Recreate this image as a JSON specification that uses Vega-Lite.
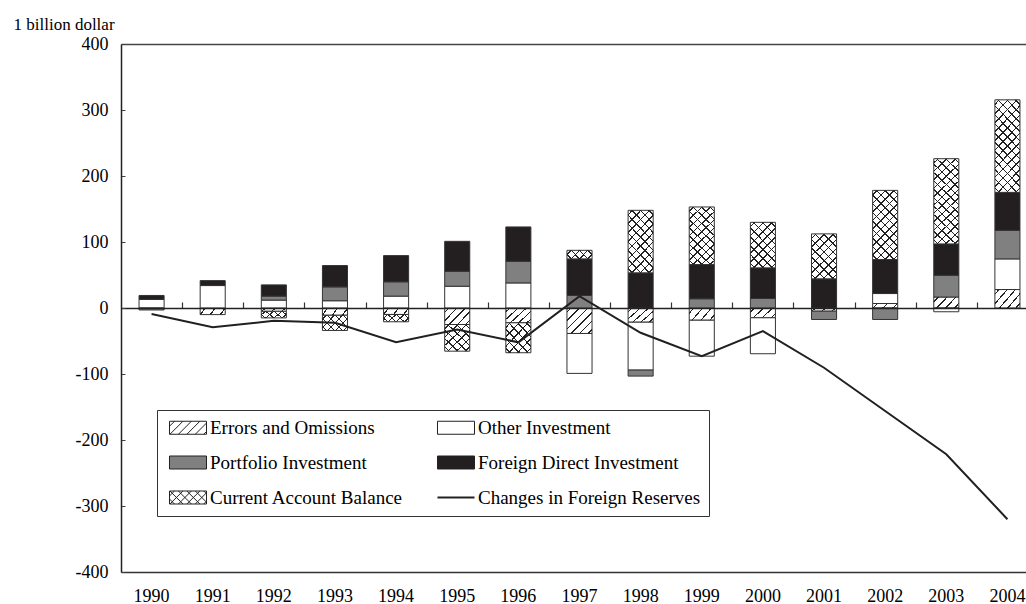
{
  "$schema": "https://vega.github.io/schema/vega-lite/v6.json",
  "usermeta": {"embedOptions": {"actions": false}},
  "width": 905,
  "height": 528,
  "autosize": {"type": "none"},
  "padding": {"left": 121, "top": 44, "right": 0, "bottom": 32},
  "background": "white",
  "config": {"view": {"stroke": null}, "font": "Liberation Serif"},
  "datasets": {
    "flows": [
      {"year": 1990, "series": "Other Investment", "value": 13, "order": 2},
      {"year": 1990, "series": "Portfolio Investment", "value": -3, "order": 3},
      {"year": 1990, "series": "Foreign Direct Investment", "value": 6, "order": 4},
      {"year": 1991, "series": "Errors and Omissions", "value": -10, "order": 1},
      {"year": 1991, "series": "Other Investment", "value": 34, "order": 2},
      {"year": 1991, "series": "Foreign Direct Investment", "value": 7.5, "order": 4},
      {"year": 1992, "series": "Errors and Omissions", "value": -5, "order": 1},
      {"year": 1992, "series": "Other Investment", "value": 12, "order": 2},
      {"year": 1992, "series": "Portfolio Investment", "value": 6, "order": 3},
      {"year": 1992, "series": "Foreign Direct Investment", "value": 17, "order": 4},
      {"year": 1992, "series": "Current Account Balance", "value": -10, "order": 5},
      {"year": 1993, "series": "Errors and Omissions", "value": -11, "order": 1},
      {"year": 1993, "series": "Other Investment", "value": 11, "order": 2},
      {"year": 1993, "series": "Portfolio Investment", "value": 21, "order": 3},
      {"year": 1993, "series": "Foreign Direct Investment", "value": 32.3, "order": 4},
      {"year": 1993, "series": "Current Account Balance", "value": -23, "order": 5},
      {"year": 1994, "series": "Errors and Omissions", "value": -9.8, "order": 1},
      {"year": 1994, "series": "Other Investment", "value": 18, "order": 2},
      {"year": 1994, "series": "Portfolio Investment", "value": 21.7, "order": 3},
      {"year": 1994, "series": "Foreign Direct Investment", "value": 39.7, "order": 4},
      {"year": 1994, "series": "Current Account Balance", "value": -11.1, "order": 5},
      {"year": 1995, "series": "Errors and Omissions", "value": -25, "order": 1},
      {"year": 1995, "series": "Other Investment", "value": 33, "order": 2},
      {"year": 1995, "series": "Portfolio Investment", "value": 22.7, "order": 3},
      {"year": 1995, "series": "Foreign Direct Investment", "value": 45.3, "order": 4},
      {"year": 1995, "series": "Current Account Balance", "value": -40.4, "order": 5},
      {"year": 1996, "series": "Errors and Omissions", "value": -22.4, "order": 1},
      {"year": 1996, "series": "Other Investment", "value": 38, "order": 2},
      {"year": 1996, "series": "Portfolio Investment", "value": 32.8, "order": 3},
      {"year": 1996, "series": "Foreign Direct Investment", "value": 52, "order": 4},
      {"year": 1996, "series": "Current Account Balance", "value": -45.4, "order": 5},
      {"year": 1997, "series": "Errors and Omissions", "value": -38.6, "order": 1},
      {"year": 1997, "series": "Other Investment", "value": -60.5, "order": 2},
      {"year": 1997, "series": "Portfolio Investment", "value": 19, "order": 3},
      {"year": 1997, "series": "Foreign Direct Investment", "value": 55.4, "order": 4},
      {"year": 1997, "series": "Current Account Balance", "value": 13, "order": 5},
      {"year": 1998, "series": "Errors and Omissions", "value": -21.5, "order": 1},
      {"year": 1998, "series": "Other Investment", "value": -72.6, "order": 2},
      {"year": 1998, "series": "Portfolio Investment", "value": -9.1, "order": 3},
      {"year": 1998, "series": "Foreign Direct Investment", "value": 53.3, "order": 4},
      {"year": 1998, "series": "Current Account Balance", "value": 94.7, "order": 5},
      {"year": 1999, "series": "Errors and Omissions", "value": -18.5, "order": 1},
      {"year": 1999, "series": "Other Investment", "value": -54.5, "order": 2},
      {"year": 1999, "series": "Portfolio Investment", "value": 14, "order": 3},
      {"year": 1999, "series": "Foreign Direct Investment", "value": 51.8, "order": 4},
      {"year": 1999, "series": "Current Account Balance", "value": 87.3, "order": 5},
      {"year": 2000, "series": "Errors and Omissions", "value": -14.8, "order": 1},
      {"year": 2000, "series": "Other Investment", "value": -54.5, "order": 2},
      {"year": 2000, "series": "Portfolio Investment", "value": 14.4, "order": 3},
      {"year": 2000, "series": "Foreign Direct Investment", "value": 46.4, "order": 4},
      {"year": 2000, "series": "Current Account Balance", "value": 69, "order": 5},
      {"year": 2001, "series": "Errors and Omissions", "value": -4.8, "order": 1},
      {"year": 2001, "series": "Portfolio Investment", "value": -12.6, "order": 3},
      {"year": 2001, "series": "Foreign Direct Investment", "value": 44.2, "order": 4},
      {"year": 2001, "series": "Current Account Balance", "value": 68.1, "order": 5},
      {"year": 2002, "series": "Errors and Omissions", "value": 6.8, "order": 1},
      {"year": 2002, "series": "Other Investment", "value": 15.1, "order": 2},
      {"year": 2002, "series": "Portfolio Investment", "value": -17.4, "order": 3},
      {"year": 2002, "series": "Foreign Direct Investment", "value": 51.5, "order": 4},
      {"year": 2002, "series": "Current Account Balance", "value": 104.8, "order": 5},
      {"year": 2003, "series": "Errors and Omissions", "value": 16.6, "order": 1},
      {"year": 2003, "series": "Other Investment", "value": -5.7, "order": 2},
      {"year": 2003, "series": "Portfolio Investment", "value": 33, "order": 3},
      {"year": 2003, "series": "Foreign Direct Investment", "value": 47.5, "order": 4},
      {"year": 2003, "series": "Current Account Balance", "value": 129.1, "order": 5},
      {"year": 2004, "series": "Errors and Omissions", "value": 28, "order": 1},
      {"year": 2004, "series": "Other Investment", "value": 46.4, "order": 2},
      {"year": 2004, "series": "Portfolio Investment", "value": 43.3, "order": 3},
      {"year": 2004, "series": "Foreign Direct Investment", "value": 57.5, "order": 4},
      {"year": 2004, "series": "Current Account Balance", "value": 140.2, "order": 5}
    ],
    "reserves": [
      {"year": 1990, "value": -9},
      {"year": 1991, "value": -29},
      {"year": 1992, "value": -19.5},
      {"year": 1993, "value": -22.5},
      {"year": 1994, "value": -52},
      {"year": 1995, "value": -32.5},
      {"year": 1996, "value": -52},
      {"year": 1997, "value": 18},
      {"year": 1998, "value": -37.5},
      {"year": 1999, "value": -73},
      {"year": 2000, "value": -35},
      {"year": 2001, "value": -90.5},
      {"year": 2002, "value": -156},
      {"year": 2003, "value": -221.5},
      {"year": 2004, "value": -320}
    ]
  },
  "resolve": {"axis": {"x": "independent", "y": "independent"}},
  "layer": [
    {
      "data": {"name": "flows"},
      "transform": [{"stack": "value", "groupby": ["year"], "sort": [{"field": "order"}], "as": ["v0", "v1"]}],
      "mark": {"type": "bar", "stroke": "#333333", "strokeWidth": 1},
      "encoding": {
        "x": {"field": "year", "type": "ordinal",
          "scale": {"type": "band", "range": [0, 917], "paddingInner": 0.59, "paddingOuter": 0.295},
          "axis": {"orient": "bottom", "title": null, "labelFont": "Liberation Serif", "labelFontSize": 18, "labelColor": "#000000", "labelAngle": 0, "ticks": false, "labelPadding": 15, "domainColor": "#333333", "domainWidth": 1.5, "grid": false}},
        "y": {"field": "v1", "type": "quantitative",
          "scale": {"domain": [-400, 400], "nice": false, "zero": false},
          "axis": {"orient": "left", "title": "1 billion dollar", "titleAngle": 0, "titleAlign": "left", "titleBaseline": "alphabetic", "titleX": -108, "titleY": -15, "titleFont": "Liberation Serif", "titleFontSize": 17, "titleFontWeight": "normal", "titleColor": "#000000",
            "values": [-400, -300, -200, -100, 0, 100, 200, 300, 400],
            "labelExpr": "datum.value < 0 ? '-' + abs(datum.value) : '' + datum.value",
            "labelFont": "Liberation Serif", "labelFontSize": 18, "labelColor": "#000000", "tickSize": -4, "tickColor": "#444444", "labelPadding": 17, "domainColor": "#222222", "domainWidth": 1.5, "grid": false, "zindex": 1}},
        "y2": {"field": "v0"},
        "fill": {"field": "series", "type": "nominal",
          "scale": {"domain": ["Errors and Omissions", "Portfolio Investment", "Current Account Balance", "Other Investment", "Foreign Direct Investment", "Changes in Foreign Reserves"],
                    "range": ["#ffffff", "#808080", "#ffffff", "#ffffff", "#231f20", "#231f20"]},
          "legend": {"title": null, "orient": "none", "legendX": 36, "legendY": 366, "columns": 2, "symbolSize": 676, "labelOffset": 26, "rowPadding": 15, "columnPadding": 29, "padding": 8, "strokeColor": "#333333", "fillColor": "#ffffff", "labelFont": "Liberation Serif", "labelFontSize": 19, "labelColor": "#000000", "labelLimit": 400, "symbolStrokeWidth": 1, "symbolStrokeColor": "#222222",
            "encode": {"symbols": {"update": {
              "shape": {"signal": "datum.value == 'Errors and Omissions' ? 'M-0.385,-0.5L2.462,-0.5L2.462,0.5L-0.385,0.5ZM-0.385,-0.115L0,-0.5M-0.35,0.5L0.65,-0.5M0.3,0.5L1.3,-0.5M0.95,0.5L1.95,-0.5M1.6,0.5L2.462,-0.362M2.25,0.5L2.462,0.288' : datum.value == 'Current Account Balance' ? 'M-0.385,-0.5L2.462,-0.5L2.462,0.5L-0.385,0.5ZM-0.385,-0.115L0,-0.5M-0.35,0.5L0.65,-0.5M0.3,0.5L1.3,-0.5M0.95,0.5L1.95,-0.5M1.6,0.5L2.462,-0.362M2.25,0.5L2.462,0.288M-0.385,0.115L0,0.5M-0.35,-0.5L0.65,0.5M0.3,-0.5L1.3,0.5M0.95,-0.5L1.95,0.5M1.6,-0.5L2.462,0.362M2.25,-0.5L2.462,-0.288' : datum.value == 'Changes in Foreign Reserves' ? 'M-0.385,0L2.462,0' : 'M-0.385,-0.5L2.462,-0.5L2.462,0.5L-0.385,0.5Z'"},
              "stroke": {"value": "#222222"},
              "strokeWidth": {"signal": "datum.value == 'Changes in Foreign Reserves' ? 2 : 1"}
            }}}}
        }
      }
    },
    {
      "data": {"name": "flows"},
      "transform": [{"stack": "value", "groupby": ["year"], "sort": [{"field": "order"}], "as": ["v0", "v1"]}, {"filter": "datum.series == 'Errors and Omissions'"}],
      "mark": {"type": "bar"},
      "encoding": {
        "x": {"field": "year", "type": "ordinal",
          "scale": {"type": "band", "range": [0, 917], "paddingInner": 0.59, "paddingOuter": 0.295},
          "axis": {"orient": "bottom", "offset": -264, "title": null, "labels": false, "ticks": true, "tickSize": -6, "tickOffset": 30.57, "tickColor": "#333333", "tickWidth": 1.2, "domainColor": "#222222", "domainWidth": 1.5, "grid": false, "zindex": 1}},
        "y": {"field": "v1", "type": "quantitative", "scale": {"domain": [-400, 400], "nice": false, "zero": false}, "axis": null},
        "y2": {"field": "v0"},
        "fill": {"condition": [
          {"test": "abs(datum.v1 - datum.v0) < 12", "value": {"gradient": "linear", "x1": 0, "y1": 0, "x2": 1.1538, "y2": 0.2308, "stops": [{"offset": 0, "color": "transparent"}, {"offset": 0.1417, "color": "transparent"}, {"offset": 0.1417, "color": "#222"}, {"offset": 0.1917, "color": "#222"}, {"offset": 0.1917, "color": "transparent"}, {"offset": 0.475, "color": "transparent"}, {"offset": 0.475, "color": "#222"}, {"offset": 0.525, "color": "#222"}, {"offset": 0.525, "color": "transparent"}, {"offset": 0.8083, "color": "transparent"}, {"offset": 0.8083, "color": "#222"}, {"offset": 0.8583, "color": "#222"}, {"offset": 0.8583, "color": "transparent"}, {"offset": 1, "color": "transparent"}]}},
          {"test": "abs(datum.v1 - datum.v0) < 20", "value": {"gradient": "linear", "x1": 0, "y1": 0, "x2": 1.2071, "y2": 0.507, "stops": [{"offset": 0, "color": "transparent"}, {"offset": 0.1039, "color": "transparent"}, {"offset": 0.1039, "color": "#222"}, {"offset": 0.1461, "color": "#222"}, {"offset": 0.1461, "color": "transparent"}, {"offset": 0.3539, "color": "transparent"}, {"offset": 0.3539, "color": "#222"}, {"offset": 0.3961, "color": "#222"}, {"offset": 0.3961, "color": "transparent"}, {"offset": 0.6039, "color": "transparent"}, {"offset": 0.6039, "color": "#222"}, {"offset": 0.6461, "color": "#222"}, {"offset": 0.6461, "color": "transparent"}, {"offset": 0.8539, "color": "transparent"}, {"offset": 0.8539, "color": "#222"}, {"offset": 0.8961, "color": "#222"}, {"offset": 0.8961, "color": "transparent"}, {"offset": 1, "color": "transparent"}]}},
          {"test": "abs(datum.v1 - datum.v0) < 30", "value": {"gradient": "linear", "x1": 0, "y1": 0, "x2": 1.1634, "y2": 0.7446, "stops": [{"offset": 0, "color": "transparent"}, {"offset": 0.0817, "color": "transparent"}, {"offset": 0.0817, "color": "#222"}, {"offset": 0.1183, "color": "#222"}, {"offset": 0.1183, "color": "transparent"}, {"offset": 0.2817, "color": "transparent"}, {"offset": 0.2817, "color": "#222"}, {"offset": 0.3183, "color": "#222"}, {"offset": 0.3183, "color": "transparent"}, {"offset": 0.4817, "color": "transparent"}, {"offset": 0.4817, "color": "#222"}, {"offset": 0.5183, "color": "#222"}, {"offset": 0.5183, "color": "transparent"}, {"offset": 0.6817, "color": "transparent"}, {"offset": 0.6817, "color": "#222"}, {"offset": 0.7183, "color": "#222"}, {"offset": 0.7183, "color": "transparent"}, {"offset": 0.8817, "color": "transparent"}, {"offset": 0.8817, "color": "#222"}, {"offset": 0.9183, "color": "#222"}, {"offset": 0.9183, "color": "transparent"}, {"offset": 1, "color": "transparent"}]}}
        ],
        "value": {"gradient": "linear", "x1": 0, "y1": 0, "x2": 1, "y2": 1, "stops": [{"offset": 0, "color": "transparent"}, {"offset": 0.0683, "color": "transparent"}, {"offset": 0.0683, "color": "#222"}, {"offset": 0.0983, "color": "#222"}, {"offset": 0.0983, "color": "transparent"}, {"offset": 0.235, "color": "transparent"}, {"offset": 0.235, "color": "#222"}, {"offset": 0.265, "color": "#222"}, {"offset": 0.265, "color": "transparent"}, {"offset": 0.4017, "color": "transparent"}, {"offset": 0.4017, "color": "#222"}, {"offset": 0.4317, "color": "#222"}, {"offset": 0.4317, "color": "transparent"}, {"offset": 0.5683, "color": "transparent"}, {"offset": 0.5683, "color": "#222"}, {"offset": 0.5983, "color": "#222"}, {"offset": 0.5983, "color": "transparent"}, {"offset": 0.735, "color": "transparent"}, {"offset": 0.735, "color": "#222"}, {"offset": 0.765, "color": "#222"}, {"offset": 0.765, "color": "transparent"}, {"offset": 0.9017, "color": "transparent"}, {"offset": 0.9017, "color": "#222"}, {"offset": 0.9317, "color": "#222"}, {"offset": 0.9317, "color": "transparent"}, {"offset": 1, "color": "transparent"}]}}
      }
    },
    {
      "data": {"name": "flows"},
      "transform": [{"stack": "value", "groupby": ["year"], "sort": [{"field": "order"}], "as": ["v0", "v1"]}, {"filter": "datum.series == 'Current Account Balance'"}],
      "mark": {"type": "bar"},
      "encoding": {
        "x": {"field": "year", "type": "ordinal", "scale": {"type": "band", "range": [0, 917], "paddingInner": 0.59, "paddingOuter": 0.295}, "axis": null},
        "y": {"field": "v1", "type": "quantitative", "scale": {"domain": [-400, 400], "nice": false, "zero": false}, "axis": null},
        "y2": {"field": "v0"},
        "fill": {"condition": [
          {"test": "abs(datum.v1 - datum.v0) < 18", "value": {"gradient": "linear", "x1": 0, "y1": 0, "x2": 1.1974, "y2": 0.3832, "stops": [{"offset": 0, "color": "transparent"}, {"offset": 0.1023, "color": "transparent"}, {"offset": 0.1023, "color": "#222"}, {"offset": 0.1477, "color": "#222"}, {"offset": 0.1477, "color": "transparent"}, {"offset": 0.3523, "color": "transparent"}, {"offset": 0.3523, "color": "#222"}, {"offset": 0.3977, "color": "#222"}, {"offset": 0.3977, "color": "transparent"}, {"offset": 0.6023, "color": "transparent"}, {"offset": 0.6023, "color": "#222"}, {"offset": 0.6477, "color": "#222"}, {"offset": 0.6477, "color": "transparent"}, {"offset": 0.8523, "color": "transparent"}, {"offset": 0.8523, "color": "#222"}, {"offset": 0.8977, "color": "#222"}, {"offset": 0.8977, "color": "transparent"}, {"offset": 1, "color": "transparent"}]}},
          {"test": "abs(datum.v1 - datum.v0) < 30", "value": {"gradient": "linear", "x1": 0, "y1": 0, "x2": 1.1765, "y2": 0.7059, "stops": [{"offset": 0, "color": "transparent"}, {"offset": 0.081, "color": "transparent"}, {"offset": 0.081, "color": "#222"}, {"offset": 0.119, "color": "#222"}, {"offset": 0.119, "color": "transparent"}, {"offset": 0.281, "color": "transparent"}, {"offset": 0.281, "color": "#222"}, {"offset": 0.319, "color": "#222"}, {"offset": 0.319, "color": "transparent"}, {"offset": 0.481, "color": "transparent"}, {"offset": 0.481, "color": "#222"}, {"offset": 0.519, "color": "#222"}, {"offset": 0.519, "color": "transparent"}, {"offset": 0.681, "color": "transparent"}, {"offset": 0.681, "color": "#222"}, {"offset": 0.719, "color": "#222"}, {"offset": 0.719, "color": "transparent"}, {"offset": 0.881, "color": "transparent"}, {"offset": 0.881, "color": "#222"}, {"offset": 0.919, "color": "#222"}, {"offset": 0.919, "color": "transparent"}, {"offset": 1, "color": "transparent"}]}},
          {"test": "abs(datum.v1 - datum.v0) < 55", "value": {"gradient": "linear", "x1": 0, "y1": 0, "x2": 0.9404, "y2": 1.0532, "stops": [{"offset": 0, "color": "transparent"}, {"offset": 0.0691, "color": "transparent"}, {"offset": 0.0691, "color": "#222"}, {"offset": 0.0975, "color": "#222"}, {"offset": 0.0975, "color": "transparent"}, {"offset": 0.2358, "color": "transparent"}, {"offset": 0.2358, "color": "#222"}, {"offset": 0.2642, "color": "#222"}, {"offset": 0.2642, "color": "transparent"}, {"offset": 0.4025, "color": "transparent"}, {"offset": 0.4025, "color": "#222"}, {"offset": 0.4309, "color": "#222"}, {"offset": 0.4309, "color": "transparent"}, {"offset": 0.5691, "color": "transparent"}, {"offset": 0.5691, "color": "#222"}, {"offset": 0.5975, "color": "#222"}, {"offset": 0.5975, "color": "transparent"}, {"offset": 0.7358, "color": "transparent"}, {"offset": 0.7358, "color": "#222"}, {"offset": 0.7642, "color": "#222"}, {"offset": 0.7642, "color": "transparent"}, {"offset": 0.9025, "color": "transparent"}, {"offset": 0.9025, "color": "#222"}, {"offset": 0.9309, "color": "#222"}, {"offset": 0.9309, "color": "transparent"}, {"offset": 1, "color": "transparent"}]}},
          {"test": "abs(datum.v1 - datum.v0) < 80", "value": {"gradient": "linear", "x1": 0, "y1": 0, "x2": 0.6604, "y2": 1.1887, "stops": [{"offset": 0, "color": "transparent"}, {"offset": 0.0518, "color": "transparent"}, {"offset": 0.0518, "color": "#222"}, {"offset": 0.0732, "color": "#222"}, {"offset": 0.0732, "color": "transparent"}, {"offset": 0.1768, "color": "transparent"}, {"offset": 0.1768, "color": "#222"}, {"offset": 0.1982, "color": "#222"}, {"offset": 0.1982, "color": "transparent"}, {"offset": 0.3018, "color": "transparent"}, {"offset": 0.3018, "color": "#222"}, {"offset": 0.3232, "color": "#222"}, {"offset": 0.3232, "color": "transparent"}, {"offset": 0.4268, "color": "transparent"}, {"offset": 0.4268, "color": "#222"}, {"offset": 0.4482, "color": "#222"}, {"offset": 0.4482, "color": "transparent"}, {"offset": 0.5518, "color": "transparent"}, {"offset": 0.5518, "color": "#222"}, {"offset": 0.5732, "color": "#222"}, {"offset": 0.5732, "color": "transparent"}, {"offset": 0.6768, "color": "transparent"}, {"offset": 0.6768, "color": "#222"}, {"offset": 0.6982, "color": "#222"}, {"offset": 0.6982, "color": "transparent"}, {"offset": 0.8018, "color": "transparent"}, {"offset": 0.8018, "color": "#222"}, {"offset": 0.8232, "color": "#222"}, {"offset": 0.8232, "color": "transparent"}, {"offset": 0.9268, "color": "transparent"}, {"offset": 0.9268, "color": "#222"}, {"offset": 0.9482, "color": "#222"}, {"offset": 0.9482, "color": "transparent"}, {"offset": 1, "color": "transparent"}]}},
          {"test": "abs(datum.v1 - datum.v0) < 100", "value": {"gradient": "linear", "x1": 0, "y1": 0, "x2": 0.503, "y2": 1.2071, "stops": [{"offset": 0, "color": "transparent"}, {"offset": 0.0412, "color": "transparent"}, {"offset": 0.0412, "color": "#222"}, {"offset": 0.0588, "color": "#222"}, {"offset": 0.0588, "color": "transparent"}, {"offset": 0.1412, "color": "transparent"}, {"offset": 0.1412, "color": "#222"}, {"offset": 0.1588, "color": "#222"}, {"offset": 0.1588, "color": "transparent"}, {"offset": 0.2412, "color": "transparent"}, {"offset": 0.2412, "color": "#222"}, {"offset": 0.2588, "color": "#222"}, {"offset": 0.2588, "color": "transparent"}, {"offset": 0.3412, "color": "transparent"}, {"offset": 0.3412, "color": "#222"}, {"offset": 0.3588, "color": "#222"}, {"offset": 0.3588, "color": "transparent"}, {"offset": 0.4412, "color": "transparent"}, {"offset": 0.4412, "color": "#222"}, {"offset": 0.4588, "color": "#222"}, {"offset": 0.4588, "color": "transparent"}, {"offset": 0.5412, "color": "transparent"}, {"offset": 0.5412, "color": "#222"}, {"offset": 0.5588, "color": "#222"}, {"offset": 0.5588, "color": "transparent"}, {"offset": 0.6412, "color": "transparent"}, {"offset": 0.6412, "color": "#222"}, {"offset": 0.6588, "color": "#222"}, {"offset": 0.6588, "color": "transparent"}, {"offset": 0.7412, "color": "transparent"}, {"offset": 0.7412, "color": "#222"}, {"offset": 0.7588, "color": "#222"}, {"offset": 0.7588, "color": "transparent"}, {"offset": 0.8412, "color": "transparent"}, {"offset": 0.8412, "color": "#222"}, {"offset": 0.8588, "color": "#222"}, {"offset": 0.8588, "color": "transparent"}, {"offset": 0.9412, "color": "transparent"}, {"offset": 0.9412, "color": "#222"}, {"offset": 0.9588, "color": "#222"}, {"offset": 0.9588, "color": "transparent"}, {"offset": 1, "color": "transparent"}]}},
          {"test": "abs(datum.v1 - datum.v0) < 118", "value": {"gradient": "linear", "x1": 0, "y1": 0, "x2": 0.4363, "y2": 1.2042, "stops": [{"offset": 0, "color": "transparent"}, {"offset": 0.0375, "color": "transparent"}, {"offset": 0.0375, "color": "#222"}, {"offset": 0.0535, "color": "#222"}, {"offset": 0.0535, "color": "transparent"}, {"offset": 0.1284, "color": "transparent"}, {"offset": 0.1284, "color": "#222"}, {"offset": 0.1444, "color": "#222"}, {"offset": 0.1444, "color": "transparent"}, {"offset": 0.2193, "color": "transparent"}, {"offset": 0.2193, "color": "#222"}, {"offset": 0.2353, "color": "#222"}, {"offset": 0.2353, "color": "transparent"}, {"offset": 0.3102, "color": "transparent"}, {"offset": 0.3102, "color": "#222"}, {"offset": 0.3262, "color": "#222"}, {"offset": 0.3262, "color": "transparent"}, {"offset": 0.4011, "color": "transparent"}, {"offset": 0.4011, "color": "#222"}, {"offset": 0.4171, "color": "#222"}, {"offset": 0.4171, "color": "transparent"}, {"offset": 0.492, "color": "transparent"}, {"offset": 0.492, "color": "#222"}, {"offset": 0.508, "color": "#222"}, {"offset": 0.508, "color": "transparent"}, {"offset": 0.5829, "color": "transparent"}, {"offset": 0.5829, "color": "#222"}, {"offset": 0.5989, "color": "#222"}, {"offset": 0.5989, "color": "transparent"}, {"offset": 0.6738, "color": "transparent"}, {"offset": 0.6738, "color": "#222"}, {"offset": 0.6898, "color": "#222"}, {"offset": 0.6898, "color": "transparent"}, {"offset": 0.7647, "color": "transparent"}, {"offset": 0.7647, "color": "#222"}, {"offset": 0.7807, "color": "#222"}, {"offset": 0.7807, "color": "transparent"}, {"offset": 0.8556, "color": "transparent"}, {"offset": 0.8556, "color": "#222"}, {"offset": 0.8716, "color": "#222"}, {"offset": 0.8716, "color": "transparent"}, {"offset": 0.9465, "color": "transparent"}, {"offset": 0.9465, "color": "#222"}, {"offset": 0.9625, "color": "#222"}, {"offset": 0.9625, "color": "transparent"}, {"offset": 1, "color": "transparent"}]}}
        ],
        "value": {"gradient": "linear", "x1": 0, "y1": 0, "x2": 0.3335, "y2": 1.1872, "stops": [{"offset": 0, "color": "transparent"}, {"offset": 0.0319, "color": "transparent"}, {"offset": 0.0319, "color": "#222"}, {"offset": 0.0451, "color": "#222"}, {"offset": 0.0451, "color": "transparent"}, {"offset": 0.1088, "color": "transparent"}, {"offset": 0.1088, "color": "#222"}, {"offset": 0.122, "color": "#222"}, {"offset": 0.122, "color": "transparent"}, {"offset": 0.1857, "color": "transparent"}, {"offset": 0.1857, "color": "#222"}, {"offset": 0.1989, "color": "#222"}, {"offset": 0.1989, "color": "transparent"}, {"offset": 0.2626, "color": "transparent"}, {"offset": 0.2626, "color": "#222"}, {"offset": 0.2758, "color": "#222"}, {"offset": 0.2758, "color": "transparent"}, {"offset": 0.3396, "color": "transparent"}, {"offset": 0.3396, "color": "#222"}, {"offset": 0.3528, "color": "#222"}, {"offset": 0.3528, "color": "transparent"}, {"offset": 0.4165, "color": "transparent"}, {"offset": 0.4165, "color": "#222"}, {"offset": 0.4297, "color": "#222"}, {"offset": 0.4297, "color": "transparent"}, {"offset": 0.4934, "color": "transparent"}, {"offset": 0.4934, "color": "#222"}, {"offset": 0.5066, "color": "#222"}, {"offset": 0.5066, "color": "transparent"}, {"offset": 0.5703, "color": "transparent"}, {"offset": 0.5703, "color": "#222"}, {"offset": 0.5835, "color": "#222"}, {"offset": 0.5835, "color": "transparent"}, {"offset": 0.6472, "color": "transparent"}, {"offset": 0.6472, "color": "#222"}, {"offset": 0.6604, "color": "#222"}, {"offset": 0.6604, "color": "transparent"}, {"offset": 0.7242, "color": "transparent"}, {"offset": 0.7242, "color": "#222"}, {"offset": 0.7374, "color": "#222"}, {"offset": 0.7374, "color": "transparent"}, {"offset": 0.8011, "color": "transparent"}, {"offset": 0.8011, "color": "#222"}, {"offset": 0.8143, "color": "#222"}, {"offset": 0.8143, "color": "transparent"}, {"offset": 0.878, "color": "transparent"}, {"offset": 0.878, "color": "#222"}, {"offset": 0.8912, "color": "#222"}, {"offset": 0.8912, "color": "transparent"}, {"offset": 0.9549, "color": "transparent"}, {"offset": 0.9549, "color": "#222"}, {"offset": 0.9681, "color": "#222"}, {"offset": 0.9681, "color": "transparent"}, {"offset": 1, "color": "transparent"}]}}
      }
    },
    {
      "data": {"name": "flows"},
      "transform": [{"stack": "value", "groupby": ["year"], "sort": [{"field": "order"}], "as": ["v0", "v1"]}, {"filter": "datum.series == 'Current Account Balance'"}],
      "mark": {"type": "bar"},
      "encoding": {
        "x": {"field": "year", "type": "ordinal", "scale": {"type": "band", "range": [0, 917], "paddingInner": 0.59, "paddingOuter": 0.295}, "axis": null},
        "y": {"field": "v1", "type": "quantitative", "scale": {"domain": [-400, 400], "nice": false, "zero": false}, "axis": null},
        "y2": {"field": "v0"},
        "fill": {"condition": [
          {"test": "abs(datum.v1 - datum.v0) < 18", "value": {"gradient": "linear", "x1": 1, "y1": 0, "x2": -0.1974, "y2": 0.3832, "stops": [{"offset": 0, "color": "transparent"}, {"offset": 0.1023, "color": "transparent"}, {"offset": 0.1023, "color": "#222"}, {"offset": 0.1477, "color": "#222"}, {"offset": 0.1477, "color": "transparent"}, {"offset": 0.3523, "color": "transparent"}, {"offset": 0.3523, "color": "#222"}, {"offset": 0.3977, "color": "#222"}, {"offset": 0.3977, "color": "transparent"}, {"offset": 0.6023, "color": "transparent"}, {"offset": 0.6023, "color": "#222"}, {"offset": 0.6477, "color": "#222"}, {"offset": 0.6477, "color": "transparent"}, {"offset": 0.8523, "color": "transparent"}, {"offset": 0.8523, "color": "#222"}, {"offset": 0.8977, "color": "#222"}, {"offset": 0.8977, "color": "transparent"}, {"offset": 1, "color": "transparent"}]}},
          {"test": "abs(datum.v1 - datum.v0) < 30", "value": {"gradient": "linear", "x1": 1, "y1": 0, "x2": -0.1765, "y2": 0.7059, "stops": [{"offset": 0, "color": "transparent"}, {"offset": 0.081, "color": "transparent"}, {"offset": 0.081, "color": "#222"}, {"offset": 0.119, "color": "#222"}, {"offset": 0.119, "color": "transparent"}, {"offset": 0.281, "color": "transparent"}, {"offset": 0.281, "color": "#222"}, {"offset": 0.319, "color": "#222"}, {"offset": 0.319, "color": "transparent"}, {"offset": 0.481, "color": "transparent"}, {"offset": 0.481, "color": "#222"}, {"offset": 0.519, "color": "#222"}, {"offset": 0.519, "color": "transparent"}, {"offset": 0.681, "color": "transparent"}, {"offset": 0.681, "color": "#222"}, {"offset": 0.719, "color": "#222"}, {"offset": 0.719, "color": "transparent"}, {"offset": 0.881, "color": "transparent"}, {"offset": 0.881, "color": "#222"}, {"offset": 0.919, "color": "#222"}, {"offset": 0.919, "color": "transparent"}, {"offset": 1, "color": "transparent"}]}},
          {"test": "abs(datum.v1 - datum.v0) < 55", "value": {"gradient": "linear", "x1": 1, "y1": 0, "x2": 0.0596, "y2": 1.0532, "stops": [{"offset": 0, "color": "transparent"}, {"offset": 0.0691, "color": "transparent"}, {"offset": 0.0691, "color": "#222"}, {"offset": 0.0975, "color": "#222"}, {"offset": 0.0975, "color": "transparent"}, {"offset": 0.2358, "color": "transparent"}, {"offset": 0.2358, "color": "#222"}, {"offset": 0.2642, "color": "#222"}, {"offset": 0.2642, "color": "transparent"}, {"offset": 0.4025, "color": "transparent"}, {"offset": 0.4025, "color": "#222"}, {"offset": 0.4309, "color": "#222"}, {"offset": 0.4309, "color": "transparent"}, {"offset": 0.5691, "color": "transparent"}, {"offset": 0.5691, "color": "#222"}, {"offset": 0.5975, "color": "#222"}, {"offset": 0.5975, "color": "transparent"}, {"offset": 0.7358, "color": "transparent"}, {"offset": 0.7358, "color": "#222"}, {"offset": 0.7642, "color": "#222"}, {"offset": 0.7642, "color": "transparent"}, {"offset": 0.9025, "color": "transparent"}, {"offset": 0.9025, "color": "#222"}, {"offset": 0.9309, "color": "#222"}, {"offset": 0.9309, "color": "transparent"}, {"offset": 1, "color": "transparent"}]}},
          {"test": "abs(datum.v1 - datum.v0) < 80", "value": {"gradient": "linear", "x1": 1, "y1": 0, "x2": 0.3396, "y2": 1.1887, "stops": [{"offset": 0, "color": "transparent"}, {"offset": 0.0518, "color": "transparent"}, {"offset": 0.0518, "color": "#222"}, {"offset": 0.0732, "color": "#222"}, {"offset": 0.0732, "color": "transparent"}, {"offset": 0.1768, "color": "transparent"}, {"offset": 0.1768, "color": "#222"}, {"offset": 0.1982, "color": "#222"}, {"offset": 0.1982, "color": "transparent"}, {"offset": 0.3018, "color": "transparent"}, {"offset": 0.3018, "color": "#222"}, {"offset": 0.3232, "color": "#222"}, {"offset": 0.3232, "color": "transparent"}, {"offset": 0.4268, "color": "transparent"}, {"offset": 0.4268, "color": "#222"}, {"offset": 0.4482, "color": "#222"}, {"offset": 0.4482, "color": "transparent"}, {"offset": 0.5518, "color": "transparent"}, {"offset": 0.5518, "color": "#222"}, {"offset": 0.5732, "color": "#222"}, {"offset": 0.5732, "color": "transparent"}, {"offset": 0.6768, "color": "transparent"}, {"offset": 0.6768, "color": "#222"}, {"offset": 0.6982, "color": "#222"}, {"offset": 0.6982, "color": "transparent"}, {"offset": 0.8018, "color": "transparent"}, {"offset": 0.8018, "color": "#222"}, {"offset": 0.8232, "color": "#222"}, {"offset": 0.8232, "color": "transparent"}, {"offset": 0.9268, "color": "transparent"}, {"offset": 0.9268, "color": "#222"}, {"offset": 0.9482, "color": "#222"}, {"offset": 0.9482, "color": "transparent"}, {"offset": 1, "color": "transparent"}]}},
          {"test": "abs(datum.v1 - datum.v0) < 100", "value": {"gradient": "linear", "x1": 1, "y1": 0, "x2": 0.497, "y2": 1.2071, "stops": [{"offset": 0, "color": "transparent"}, {"offset": 0.0412, "color": "transparent"}, {"offset": 0.0412, "color": "#222"}, {"offset": 0.0588, "color": "#222"}, {"offset": 0.0588, "color": "transparent"}, {"offset": 0.1412, "color": "transparent"}, {"offset": 0.1412, "color": "#222"}, {"offset": 0.1588, "color": "#222"}, {"offset": 0.1588, "color": "transparent"}, {"offset": 0.2412, "color": "transparent"}, {"offset": 0.2412, "color": "#222"}, {"offset": 0.2588, "color": "#222"}, {"offset": 0.2588, "color": "transparent"}, {"offset": 0.3412, "color": "transparent"}, {"offset": 0.3412, "color": "#222"}, {"offset": 0.3588, "color": "#222"}, {"offset": 0.3588, "color": "transparent"}, {"offset": 0.4412, "color": "transparent"}, {"offset": 0.4412, "color": "#222"}, {"offset": 0.4588, "color": "#222"}, {"offset": 0.4588, "color": "transparent"}, {"offset": 0.5412, "color": "transparent"}, {"offset": 0.5412, "color": "#222"}, {"offset": 0.5588, "color": "#222"}, {"offset": 0.5588, "color": "transparent"}, {"offset": 0.6412, "color": "transparent"}, {"offset": 0.6412, "color": "#222"}, {"offset": 0.6588, "color": "#222"}, {"offset": 0.6588, "color": "transparent"}, {"offset": 0.7412, "color": "transparent"}, {"offset": 0.7412, "color": "#222"}, {"offset": 0.7588, "color": "#222"}, {"offset": 0.7588, "color": "transparent"}, {"offset": 0.8412, "color": "transparent"}, {"offset": 0.8412, "color": "#222"}, {"offset": 0.8588, "color": "#222"}, {"offset": 0.8588, "color": "transparent"}, {"offset": 0.9412, "color": "transparent"}, {"offset": 0.9412, "color": "#222"}, {"offset": 0.9588, "color": "#222"}, {"offset": 0.9588, "color": "transparent"}, {"offset": 1, "color": "transparent"}]}},
          {"test": "abs(datum.v1 - datum.v0) < 118", "value": {"gradient": "linear", "x1": 1, "y1": 0, "x2": 0.5637, "y2": 1.2042, "stops": [{"offset": 0, "color": "transparent"}, {"offset": 0.0375, "color": "transparent"}, {"offset": 0.0375, "color": "#222"}, {"offset": 0.0535, "color": "#222"}, {"offset": 0.0535, "color": "transparent"}, {"offset": 0.1284, "color": "transparent"}, {"offset": 0.1284, "color": "#222"}, {"offset": 0.1444, "color": "#222"}, {"offset": 0.1444, "color": "transparent"}, {"offset": 0.2193, "color": "transparent"}, {"offset": 0.2193, "color": "#222"}, {"offset": 0.2353, "color": "#222"}, {"offset": 0.2353, "color": "transparent"}, {"offset": 0.3102, "color": "transparent"}, {"offset": 0.3102, "color": "#222"}, {"offset": 0.3262, "color": "#222"}, {"offset": 0.3262, "color": "transparent"}, {"offset": 0.4011, "color": "transparent"}, {"offset": 0.4011, "color": "#222"}, {"offset": 0.4171, "color": "#222"}, {"offset": 0.4171, "color": "transparent"}, {"offset": 0.492, "color": "transparent"}, {"offset": 0.492, "color": "#222"}, {"offset": 0.508, "color": "#222"}, {"offset": 0.508, "color": "transparent"}, {"offset": 0.5829, "color": "transparent"}, {"offset": 0.5829, "color": "#222"}, {"offset": 0.5989, "color": "#222"}, {"offset": 0.5989, "color": "transparent"}, {"offset": 0.6738, "color": "transparent"}, {"offset": 0.6738, "color": "#222"}, {"offset": 0.6898, "color": "#222"}, {"offset": 0.6898, "color": "transparent"}, {"offset": 0.7647, "color": "transparent"}, {"offset": 0.7647, "color": "#222"}, {"offset": 0.7807, "color": "#222"}, {"offset": 0.7807, "color": "transparent"}, {"offset": 0.8556, "color": "transparent"}, {"offset": 0.8556, "color": "#222"}, {"offset": 0.8716, "color": "#222"}, {"offset": 0.8716, "color": "transparent"}, {"offset": 0.9465, "color": "transparent"}, {"offset": 0.9465, "color": "#222"}, {"offset": 0.9625, "color": "#222"}, {"offset": 0.9625, "color": "transparent"}, {"offset": 1, "color": "transparent"}]}}
        ],
        "value": {"gradient": "linear", "x1": 1, "y1": 0, "x2": 0.6665, "y2": 1.1872, "stops": [{"offset": 0, "color": "transparent"}, {"offset": 0.0319, "color": "transparent"}, {"offset": 0.0319, "color": "#222"}, {"offset": 0.0451, "color": "#222"}, {"offset": 0.0451, "color": "transparent"}, {"offset": 0.1088, "color": "transparent"}, {"offset": 0.1088, "color": "#222"}, {"offset": 0.122, "color": "#222"}, {"offset": 0.122, "color": "transparent"}, {"offset": 0.1857, "color": "transparent"}, {"offset": 0.1857, "color": "#222"}, {"offset": 0.1989, "color": "#222"}, {"offset": 0.1989, "color": "transparent"}, {"offset": 0.2626, "color": "transparent"}, {"offset": 0.2626, "color": "#222"}, {"offset": 0.2758, "color": "#222"}, {"offset": 0.2758, "color": "transparent"}, {"offset": 0.3396, "color": "transparent"}, {"offset": 0.3396, "color": "#222"}, {"offset": 0.3528, "color": "#222"}, {"offset": 0.3528, "color": "transparent"}, {"offset": 0.4165, "color": "transparent"}, {"offset": 0.4165, "color": "#222"}, {"offset": 0.4297, "color": "#222"}, {"offset": 0.4297, "color": "transparent"}, {"offset": 0.4934, "color": "transparent"}, {"offset": 0.4934, "color": "#222"}, {"offset": 0.5066, "color": "#222"}, {"offset": 0.5066, "color": "transparent"}, {"offset": 0.5703, "color": "transparent"}, {"offset": 0.5703, "color": "#222"}, {"offset": 0.5835, "color": "#222"}, {"offset": 0.5835, "color": "transparent"}, {"offset": 0.6472, "color": "transparent"}, {"offset": 0.6472, "color": "#222"}, {"offset": 0.6604, "color": "#222"}, {"offset": 0.6604, "color": "transparent"}, {"offset": 0.7242, "color": "transparent"}, {"offset": 0.7242, "color": "#222"}, {"offset": 0.7374, "color": "#222"}, {"offset": 0.7374, "color": "transparent"}, {"offset": 0.8011, "color": "transparent"}, {"offset": 0.8011, "color": "#222"}, {"offset": 0.8143, "color": "#222"}, {"offset": 0.8143, "color": "transparent"}, {"offset": 0.878, "color": "transparent"}, {"offset": 0.878, "color": "#222"}, {"offset": 0.8912, "color": "#222"}, {"offset": 0.8912, "color": "transparent"}, {"offset": 0.9549, "color": "transparent"}, {"offset": 0.9549, "color": "#222"}, {"offset": 0.9681, "color": "#222"}, {"offset": 0.9681, "color": "transparent"}, {"offset": 1, "color": "transparent"}]}}
      }
    },
    {
      "data": {"name": "reserves"},
      "mark": {"type": "line", "stroke": "#231f20", "strokeWidth": 2},
      "encoding": {
        "x": {"field": "year", "type": "ordinal", "scale": {"type": "band", "range": [0, 917], "paddingInner": 0.59, "paddingOuter": 0.295},
          "axis": {"orient": "top", "title": null, "labels": false, "ticks": false, "domainColor": "#444444", "domainWidth": 1.5, "grid": false}},
        "y": {"field": "value", "type": "quantitative", "scale": {"domain": [-400, 400], "nice": false, "zero": false}, "axis": null}
      }
    }
  ]
}
